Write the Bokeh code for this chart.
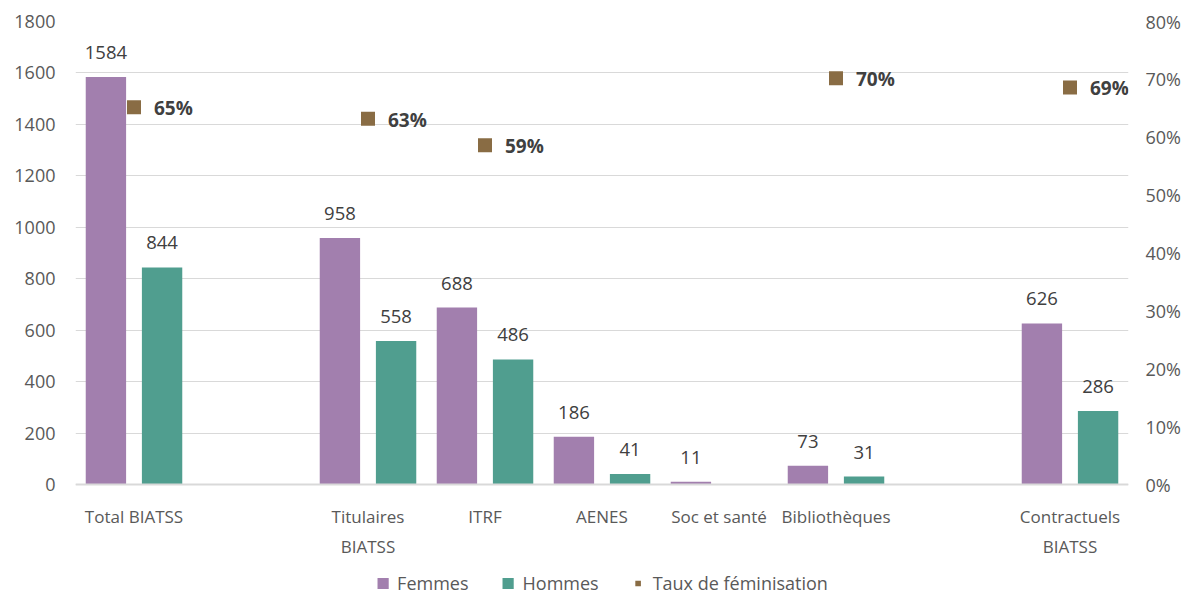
from bokeh.plotting import figure
from bokeh.models import (ColumnDataSource, Range1d, LinearAxis, FixedTicker,
                          NumeralTickFormatter, Legend, LegendItem, Span)
from bokeh.core.properties import value
from bokeh.embed import file_html
from bokeh.resources import INLINE

categories = ["Total BIATSS", "", "Titulaires\nBIATSS", "ITRF", "AENES",
              "Soc et santé", "Bibliothèques", "", "Contractuels\nBIATSS"]
femmes = [1584, None, 958, 688, 186, 11, 73, None, 626]
hommes = [844, None, 558, 486, 41, None, 31, None, 286]
taux = [0.652, None, 0.632, 0.586, None, None, 0.702, None, 0.686]

FONT = "Open Sans"
C_F = "#A27FAE"
C_H = "#509E8F"
C_T = "#896C44"
TICK_C = "#595959"
LAB_C = "#404040"

off = 0.24
bw = 0.345

# layout (pixels): plot area from y=21 (1800 / 80%) to y=484 (0), bottom strip below
TOP, ZERO, BOTTOM = 21, 484, 595
YMAX, PMAX = 1800, 0.8
ymin = -(BOTTOM - ZERO) * YMAX / (ZERO - TOP)
pmin = -(BOTTOM - ZERO) * PMAX / (ZERO - TOP)

fx, fy, fl = [], [], []
hx, hy, hl = [], [], []
tx, ty, tl = [], [], []
c1x, c1l, c2x, c2l = [], [], [], []
for i, c in enumerate(categories):
    if femmes[i] is not None:
        fx.append(i - off); fy.append(femmes[i]); fl.append(str(femmes[i]))
    if hommes[i] is not None:
        hx.append(i + off); hy.append(hommes[i]); hl.append(str(hommes[i]))
    if taux[i] is not None:
        tx.append(i); ty.append(taux[i]); tl.append(f"{round(taux[i]*100):d}%")
    if c:
        parts = c.split("\n")
        c1x.append(i); c1l.append(parts[0])
        if len(parts) > 1:
            c2x.append(i); c2l.append(parts[1])

p = figure(frame_width=1053, frame_height=BOTTOM - TOP, output_backend="svg",
           toolbar_location=None,
           x_range=Range1d(-0.5, len(categories) - 0.5), y_range=Range1d(ymin, YMAX),
           min_border_left=75, min_border_top=TOP, min_border_right=62,
           min_border_bottom=0)
p.extra_y_ranges = {"pct": Range1d(pmin, PMAX)}
p.outline_line_color = None
p.background_fill_color = "white"
p.border_fill_color = "white"

sf = ColumnDataSource(dict(x=fx, y=fy, l=fl))
sh = ColumnDataSource(dict(x=hx, y=hy, l=hl))
st = ColumnDataSource(dict(x=tx, y=ty, l=tl))
sc1 = ColumnDataSource(dict(x=c1x, y=[0] * len(c1x), l=c1l))
sc2 = ColumnDataSource(dict(x=c2x, y=[0] * len(c2x), l=c2l))

rf = p.vbar(x="x", top="y", width=bw, source=sf, fill_color=C_F, line_color=None)
rh = p.vbar(x="x", top="y", width=bw, source=sh, fill_color=C_H, line_color=None)
rt = p.scatter(x="x", y="y", source=st, y_range_name="pct", marker="square",
               size=14, fill_color=C_T, line_color=None)

p.text(x="x", y="y", text="l", source=sf, text_align="center", text_baseline="bottom",
       y_offset=-18, text_font=value(FONT), text_font_size="18.5px", text_color=LAB_C)
p.text(x="x", y="y", text="l", source=sh, text_align="center", text_baseline="bottom",
       y_offset=-18, text_font=value(FONT), text_font_size="18.5px", text_color=LAB_C)
p.text(x="x", y="y", text="l", source=st, y_range_name="pct", text_align="left",
       text_baseline="middle", x_offset=20, y_offset=1, text_font=value(FONT),
       text_font_size="19px", text_font_style="bold", text_color=LAB_C)

# category labels (two lines)
p.text(x="x", y="y", text="l", source=sc1, text_align="center", text_baseline="middle",
       y_offset=32, text_font=value(FONT), text_font_size="17px", text_color=TICK_C)
p.text(x="x", y="y", text="l", source=sc2, text_align="center", text_baseline="middle",
       y_offset=62, text_font=value(FONT), text_font_size="17px", text_color=TICK_C)

p.xaxis.visible = False
p.add_layout(Span(location=0, dimension="width", line_color="#D9D9D9", line_width=2))


def plain(ax, size):
    ax.axis_line_color = None
    ax.major_tick_line_color = None
    ax.minor_tick_line_color = None
    ax.major_tick_out = 0
    ax.major_tick_in = 0
    ax.minor_tick_out = 0
    ax.minor_tick_in = 0
    ax.major_label_text_font = FONT
    ax.major_label_text_font_size = size
    ax.major_label_text_color = TICK_C


ya = p.yaxis[0]
plain(ya, "18px")
ya.ticker = FixedTicker(ticks=list(range(0, YMAX + 1, 200)))
ya.major_label_standoff = 20

ax2 = LinearAxis(y_range_name="pct", ticker=FixedTicker(ticks=[i / 10 for i in range(9)]),
                 formatter=NumeralTickFormatter(format="0%"))
plain(ax2, "18px")
ax2.major_label_standoff = 17
p.add_layout(ax2, "right")

p.xgrid.grid_line_color = None
p.ygrid.grid_line_color = "#D9D9D9"
p.ygrid.grid_line_width = 1

legend = Legend(items=[LegendItem(label="Femmes", renderers=[rf]),
                       LegendItem(label="Hommes", renderers=[rh]),
                       LegendItem(label="Taux de féminisation", renderers=[rt])],
                orientation="horizontal", location="bottom_center")
legend.label_text_font = FONT
legend.label_text_font_size = "18px"
legend.label_text_color = TICK_C
legend.glyph_width = 14
legend.glyph_height = 14
legend.label_height = 20
legend.spacing = 32
legend.label_standoff = 8
legend.border_line_color = None
legend.background_fill_alpha = 0
legend.padding = 0
legend.margin = 0
p.add_layout(legend, "center")

open("out.html", "w").write(file_html(p, INLINE))
